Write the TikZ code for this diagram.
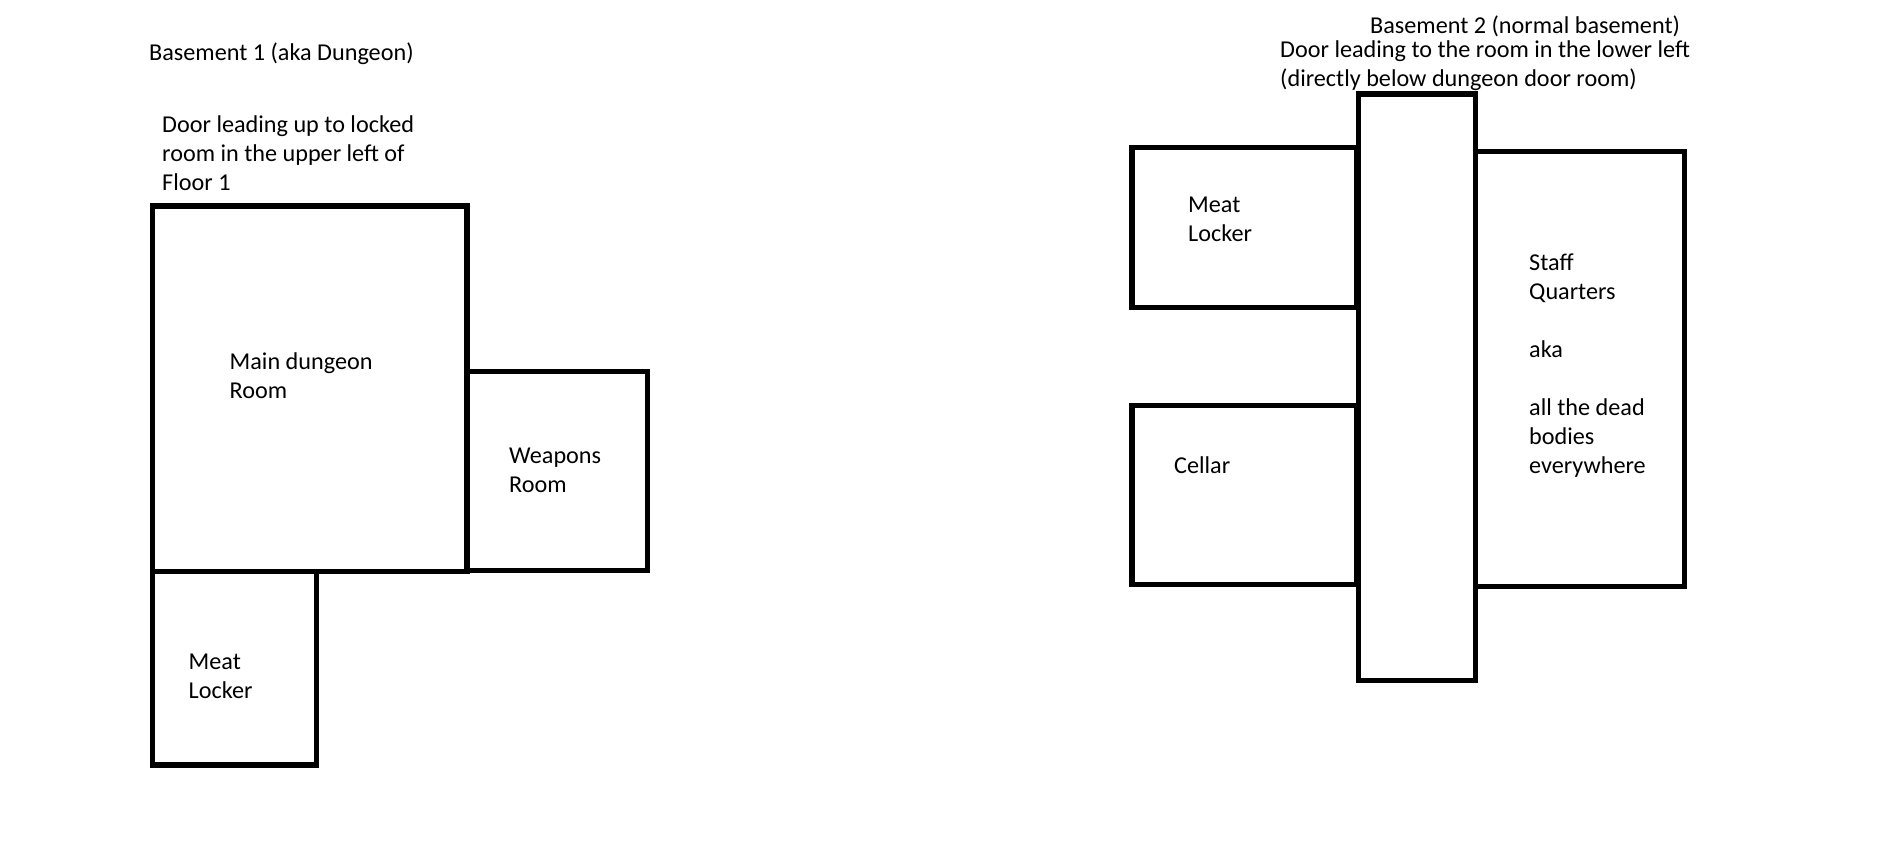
\documentclass[tikz,border=0pt]{standalone}
\usepackage{fontspec}
\setmainfont{Carlito}
\tikzset{
  x=1pt,y=-1pt,
  room/.style={draw=black,line width=5.2pt,line join=miter,fill=none},
  lbl/.style={anchor=north west,inner sep=0pt,align=left,text=black,
    font=\fontsize{24.2}{29}\selectfont,execute at begin node=\strut}
}
\begin{document}
\begin{tikzpicture}
\useasboundingbox[fill=white] (0,0) rectangle (1899,858);
% Basement 1
\draw[room] (466.7,371.5) rectangle (647.5,570.5);
\draw[room] (152.7,571.7) rectangle (316.5,765);
\draw[room] (152.7,206) rectangle (467,571.7);
% Basement 2
\draw[room] (1132,147.5) rectangle (1356.5,307.5);
\draw[room] (1132,405.5) rectangle (1356.5,584.3);
\draw[room] (1475.7,151.5) rectangle (1684.5,586.5);
\draw[room] (1358.3,94) rectangle (1475.7,680.5);
% Labels
\node[lbl] (t1) at (149,40) {Basement 1 (aka Dungeon)};
\node[lbl] (t2) at (162,115) {Door leading up to locked\\room in the upper left of\\Floor 1};
\node[lbl] (t3) at (229.5,352.5) {Main dungeon\\Room};
\node[lbl] (t4) at (509,448) {Weapons\\Room};
\node[lbl] (t5) at (188.5,654) {Meat\\Locker};
\node[lbl] (t6) at (1370,13.5) {Basement 2 (normal basement)};
\node[lbl] (t7) at (1280,40.5) {Door leading to the room in the lower left\\(directly below dungeon door room)};
\node[lbl] (t8) at (1188,197) {Meat\\Locker};
\node[lbl] (t9) at (1174,453) {Cellar};
\node[lbl] (t10) at (1529,253.5) {Staff\\Quarters\\[29pt]aka\\[29pt]all the dead\\bodies\\everywhere};
\end{tikzpicture}
\end{document}
